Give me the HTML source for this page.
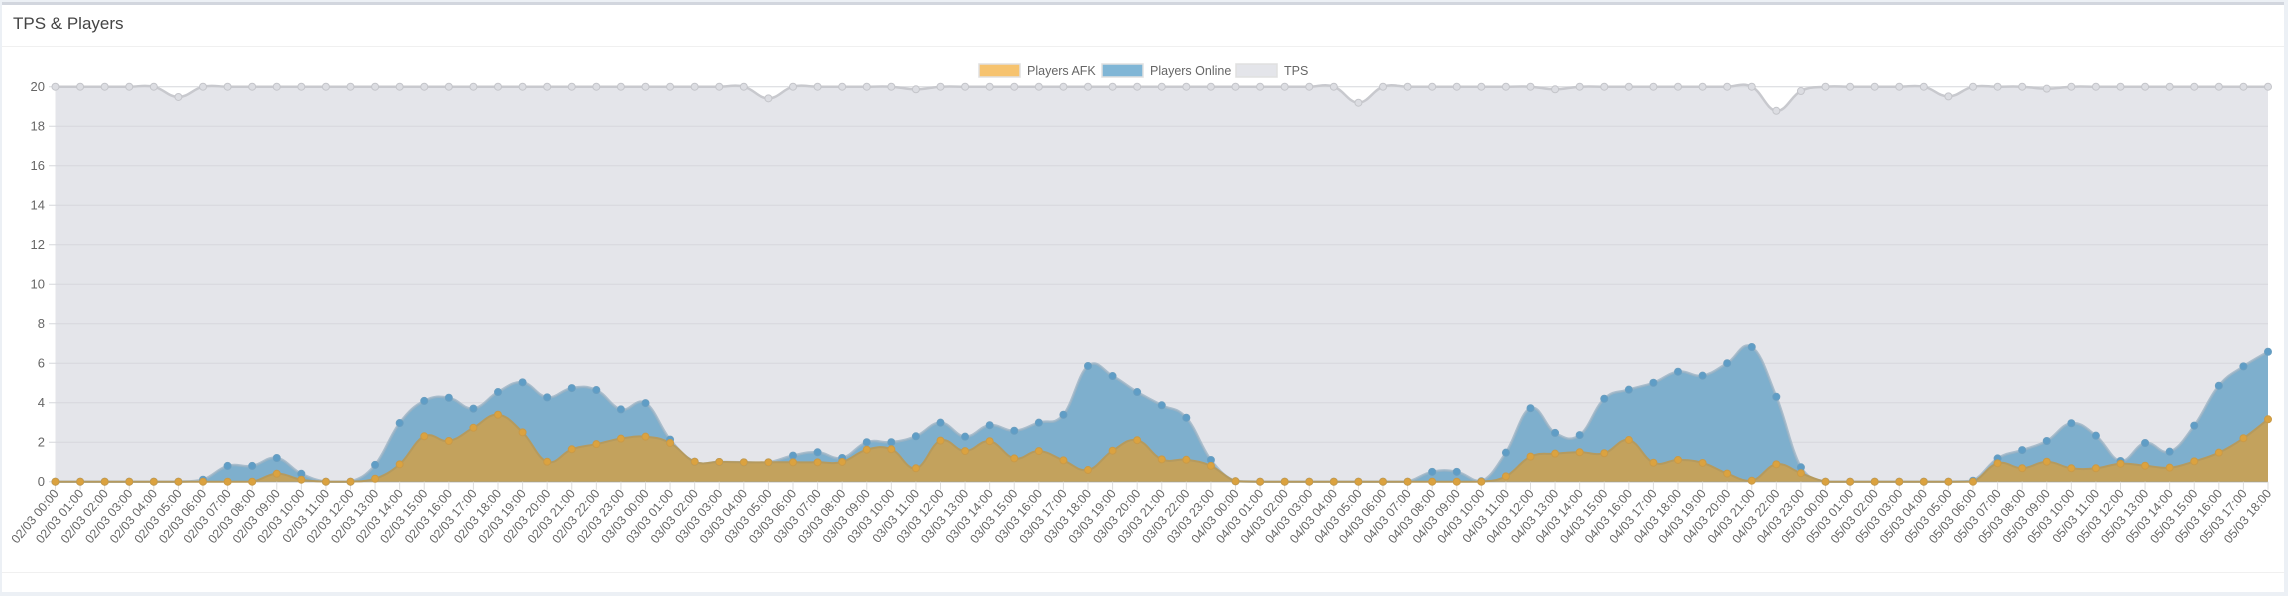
<!DOCTYPE html>
<html><head><meta charset="utf-8"><style>
html,body{margin:0;padding:0;background:#ecf0f5;width:2288px;height:596px;overflow:hidden;font-family:"Liberation Sans",Arial,sans-serif}
#card{position:absolute;left:2px;top:2px;width:2282px;height:590px;background:#fff;border-top:3px solid #d2d6de;box-sizing:border-box}
#title{position:absolute;left:11px;top:9px;font-size:17px;color:#444}
#hr1{position:absolute;left:0;right:0;top:41px;height:1px;background:#f0f0f0}
#hr2{position:absolute;left:0;right:0;top:567px;height:1px;background:#f0f0f0}
svg{position:absolute;left:0;top:0}
</style></head><body>
<div id="card"><div id="title">TPS &amp; Players</div><div id="hr1"></div><div id="hr2"></div></div>
<svg id="s" width="2288" height="596" xmlns="http://www.w3.org/2000/svg" font-family="Liberation Sans, Arial, sans-serif"></svg>
<script>
var on=[0,0,0,0,0,0,0.1,0.8,0.8,1.2,0.4,0,0,0.85,2.97,4.09,4.25,3.7,4.54,5.03,4.27,4.74,4.64,3.66,3.98,2.13,1.01,1.0,0.98,0.98,1.32,1.49,1.2,2.0,2.0,2.3,2.99,2.28,2.86,2.58,2.99,3.39,5.86,5.35,4.54,3.87,3.24,1.1,0.02,0,0,0,0,0,0,0,0.5,0.5,0.02,1.47,3.72,2.47,2.36,4.2,4.66,5.01,5.57,5.37,6.0,6.82,4.3,0.73,0,0,0,0,0,0,0.05,1.18,1.6,2.06,2.96,2.33,1.05,1.96,1.52,2.84,4.86,5.84,6.58];
var afk=[0,0,0,0,0,0,0,0,0,0.4,0.1,0,0,0.15,0.88,2.3,2.06,2.73,3.39,2.5,1.01,1.64,1.9,2.18,2.28,1.96,1.01,1.0,0.98,0.98,0.98,0.98,1.0,1.62,1.64,0.68,2.08,1.55,2.05,1.18,1.55,1.08,0.59,1.57,2.1,1.13,1.11,0.8,0.02,0,0,0,0,0,0,0,0,0,0,0.27,1.27,1.42,1.49,1.44,2.11,0.96,1.1,0.95,0.41,0.05,0.88,0.43,0,0,0,0,0,0,0,0.93,0.68,1.01,0.68,0.68,0.91,0.81,0.71,1.03,1.47,2.2,3.16];
var tps=[];for(var i=0;i<91;i++)tps.push(20);
tps[5]=19.48;tps[29]=19.41;tps[35]=19.87;tps[53]=19.19;tps[61]=19.87;tps[70]=18.78;tps[71]=19.78;tps[77]=19.51;tps[81]=19.9;
var X0=55.5,X1=2268,Y0=481.7,K=19.75,N=91,st=(X1-X0)/90;
function X(i){return X0+st*i}function Y(v){return Y0-v*K}
function pts(a){return a.map(function(v,i){return [X(i),Y(v)]})}
function curve(p){var t=0.4,d="M"+p[0][0]+","+p[0][1];
for(var i=0;i<p.length-1;i++){var a=p[i-1]||p[i],b=p[i],c=p[i+1],e=p[i+2]||c;
var c1x=b[0]+(c[0]-a[0])*t/2,c1y=b[1]+(c[1]-a[1])*t/2,c2x=c[0]-(e[0]-b[0])*t/2,c2y=c[1]-(e[1]-b[1])*t/2;
c1y=Math.min(c1y,Y0);c2y=Math.min(c2y,Y0);
d+=" C"+c1x.toFixed(1)+","+c1y.toFixed(1)+" "+c2x.toFixed(1)+","+c2y.toFixed(1)+" "+c[0].toFixed(1)+","+c[1].toFixed(1);}return d}
var h="";
var pt=pts(tps),ct=curve(pt);
h+='<path d="'+ct+' L'+X1+','+Y0+' L'+X0+','+Y0+' Z" fill="#e4e5ea"/>';
for(var v=0;v<=20;v+=2){var y=Y(v);h+='<line x1="49" x2="'+X1+'" y1="'+y+'" y2="'+y+'" stroke="#d6d7dc" stroke-width="1"/>';
h+='<text x="45" y="'+(y+4.5)+'" font-size="13" fill="#666" text-anchor="end">'+v+'</text>';}
h+='<line x1="'+X0+'" x2="'+X1+'" y1="'+Y0+'" y2="'+Y0+'" stroke="#999" stroke-width="1"/>';
var po=pts(on),co=curve(po);
h+='<path d="'+co+' L'+X1+','+Y0+' L'+X0+','+Y0+' Z" fill="#7eafcd"/>';
h+='<path d="'+co+'" fill="none" stroke="#9bb3c4" stroke-width="2.5" opacity="0.8"/>';
var pa=pts(afk),ca=curve(pa);
h+='<path d="'+ca+' L'+X1+','+Y0+' L'+X0+','+Y0+' Z" fill="#c3a25d"/>';
h+='<path d="'+ca+'" fill="none" stroke="#b59a5e" stroke-width="2"/>';
h+='<path d="'+ct+'" fill="none" stroke="#c8c9ce" stroke-width="2.5"/>';
for(var i=0;i<N;i++){var x=X(i);
h+='<line x1="'+x+'" x2="'+x+'" y1="'+Y0+'" y2="'+(Y0+8)+'" stroke="#ddd"/>';
h+='<circle cx="'+x+'" cy="'+po[i][1]+'" r="3.5" fill="#5f9dc6" stroke="#6a9ec0"/>';
h+='<circle cx="'+x+'" cy="'+pa[i][1]+'" r="3.5" fill="#dba23f" stroke="#c99a48"/>';
h+='<circle cx="'+x+'" cy="'+pt[i][1]+'" r="3.5" fill="#dcdde2" stroke="#c4c5ca"/>';
var d=Math.floor(i/24)+2,hr=i%24;var lab="0"+d+"/03 "+(hr<10?"0":"")+hr+":00";
h+='<text transform="translate('+(x+4)+','+(Y0+12)+') rotate(-50)" font-size="12.5" fill="#666" text-anchor="end">'+lab+'</text>';}
var L=[[979,"#f6c36f","Players AFK"],[1102,"#80b6d6","Players Online"],[1236,"#e4e5ea","TPS"]];
L.forEach(function(l){h+='<rect x="'+l[0]+'" y="64" width="41" height="13" fill="'+l[1]+'" stroke="#e0e0e0" stroke-width="1.5"/>';
h+='<text x="'+(l[0]+48)+'" y="75" font-size="12.5" fill="#666">'+l[2]+'</text>';});
document.getElementById("s").innerHTML=h;
</script>
</body></html>
